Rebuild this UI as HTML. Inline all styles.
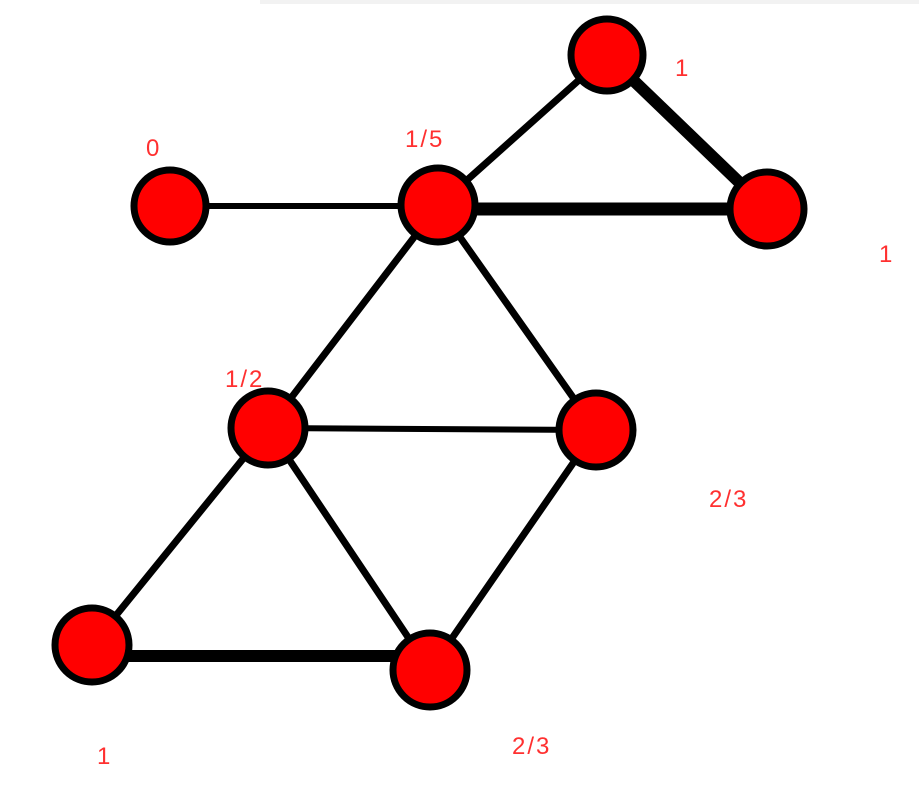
<!DOCTYPE html>
<html><head><style>body{margin:0;background:#fff}svg{display:block}</style></head>
<body>
<svg width="919" height="786" xmlns="http://www.w3.org/2000/svg">
<rect width="919" height="786" fill="#fff"/>
<line x1="260" y1="2" x2="919" y2="2" stroke="#f2f2f2" stroke-width="4"/>
<g stroke="#000" stroke-linecap="round">
<line x1="170" y1="206" x2="438" y2="206" stroke-width="6"/>
<line x1="438" y1="206" x2="607" y2="55" stroke-width="7"/>
<line x1="607" y1="55" x2="767" y2="209" stroke-width="12"/>
<line x1="438" y1="209" x2="767" y2="209" stroke-width="13"/>
<line x1="438" y1="206" x2="268" y2="428" stroke-width="7"/>
<line x1="438" y1="206" x2="596" y2="430" stroke-width="7"/>
<line x1="268" y1="428" x2="596" y2="430" stroke-width="6"/>
<line x1="268" y1="428" x2="92" y2="645" stroke-width="7"/>
<line x1="268" y1="428" x2="430" y2="670" stroke-width="7"/>
<line x1="596" y1="430" x2="430" y2="670" stroke-width="7"/>
<line x1="92" y1="656" x2="405" y2="656" stroke-width="12"/>
</g>
<g fill="#ff0000" stroke="#000" stroke-width="7">
<circle cx="607" cy="55" r="36"/>
<circle cx="438" cy="205" r="37"/>
<circle cx="767" cy="209" r="37"/>
<circle cx="170" cy="206" r="36"/>
<circle cx="268" cy="428" r="37"/>
<circle cx="596" cy="430" r="37"/>
<circle cx="92" cy="645" r="37"/>
<circle cx="430" cy="670" r="37"/>
</g>
<g fill="#ff3030" font-family="Liberation Sans, sans-serif" font-size="24" letter-spacing="2">
<text x="146" y="156">0</text>
<text x="405" y="147">1/5</text>
<text x="675" y="76">1</text>
<text x="879" y="262">1</text>
<text x="225" y="387">1/2</text>
<text x="709" y="507">2/3</text>
<text x="97" y="764">1</text>
<text x="512" y="754">2/3</text>
</g>
</svg>
</body></html>
